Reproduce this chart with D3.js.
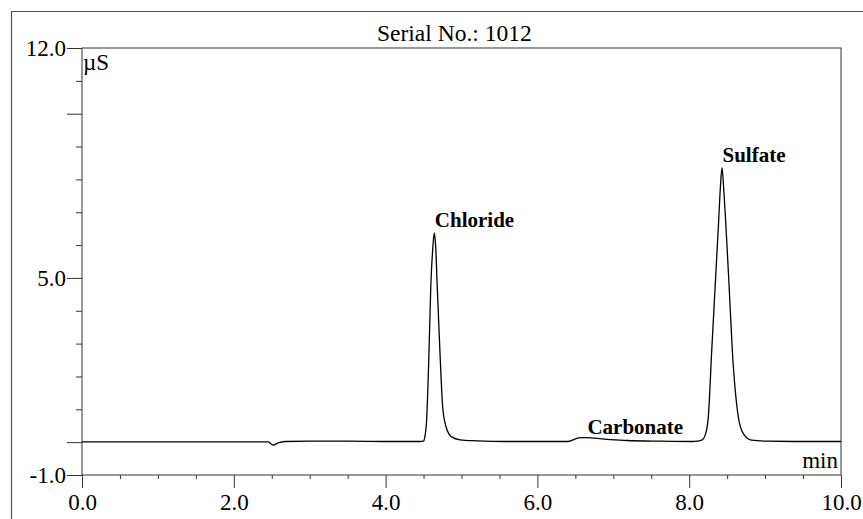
<!DOCTYPE html>
<html>
<head>
<meta charset="utf-8">
<title>Serial No.: 1012</title>
<script src="https://cdn.jsdelivr.net/npm/d3@7"></script>
<style>
  body { margin: 0; background: #fff; }
  svg { display: block; font-family: "Liberation Serif", "Times New Roman", serif; }
</style>
</head>
<body>
<div id="chart"></div>
<script>
/** Chromatogram plot for one sample. */

var chartTitle = "Serial No.: 1012";
var xUnit = "min";
var yUnit = "\u00b5S";

// Retention time (min) and conductivity (uS) of the trace
var traceTime = [0.0, 1.0, 2.0, 2.4, 2.455, 2.49, 2.52, 2.56, 2.61, 2.68,
    3.0, 3.5, 4.0, 4.45, 4.497, 4.52, 4.54, 4.57, 4.595, 4.625,
    4.642, 4.66, 4.68, 4.717, 4.752, 4.796, 4.87, 4.98, 5.2, 5.6,
    6.0, 6.4, 6.48, 6.55, 6.62, 6.75, 6.96, 7.18, 7.62, 8.05,
    8.099, 8.165, 8.217, 8.252, 8.297, 8.344, 8.385, 8.412, 8.432, 8.455,
    8.48, 8.524, 8.568, 8.647, 8.713, 8.823, 9.021, 9.5, 10.0];
var traceSignal = [0.01, 0.01, 0.01, 0.01, 0.01, -0.05, -0.09, -0.05, -0.01, 0.02,
    0.03, 0.03, 0.02, 0.02, 0.03, 0.2, 0.65, 2.6, 4.7, 6.0,
    6.37, 5.95, 4.75, 2.7, 1.07, 0.47, 0.16, 0.07, 0.04, 0.02,
    0.02, 0.02, 0.08, 0.13, 0.14, 0.12, 0.08, 0.05, 0.03, 0.02,
    0.03, 0.06, 0.26, 0.77, 2.8, 4.83, 6.6, 7.8, 8.36, 7.7,
    6.75, 4.83, 2.8, 0.77, 0.26, 0.06, 0.03, 0.02, 0.02];

// Peak labels
var peakNames = ["Chloride", "Carbonate", "Sulfate"];
var peakTimes = [4.642, 6.62, 8.432];
var peakHeights = [6.37, 0.14, 8.36];

// Axis ticks
var xMajorTicks = [0, 2, 4, 6, 8, 10];
var xTickLabels = ["0.0", "2.0", "4.0", "6.0", "8.0", "10.0"];
var xMinorTicks = [0.5, 1, 1.5, 2.5, 3, 3.5, 4.5, 5, 5.5, 6.5, 7, 7.5, 8.5, 9, 9.5];
var yMajorTicks = [-1, 0, 5, 10, 12];
var yTickLabels = ["-1.0", "", "5.0", "", "12.0"];
var yMinorTicks = [1, 2, 3, 4, 6, 7, 8, 9, 11];

function drawChromatogram(elemID, opts) {
    opts = opts || {};

    var width = opts.width || 863;
    var height = opts.height || 519;
    var plot = {left: 82, right: 841, top: 48, bottom: 475};
    var axisColor = "#333";

    var svg = d3.select(elemID).append("svg")
        .attr("width", width)
        .attr("height", height);

    // outer frame of the printout (only top and left are on the page)
    svg.append("path")
        .attr("d", "M11.5," + height + "V11.5H" + width)
        .attr("fill", "none")
        .attr("stroke", "#555")
        .attr("stroke-width", 1.2);

    var xScale = d3.scaleLinear().domain([0, 10]).range([plot.left, plot.right]);
    var yScale = d3.scaleLinear().domain([-1, 12]).range([plot.bottom, plot.top]);

    // plot box
    svg.append("rect")
        .attr("x", plot.left)
        .attr("y", plot.top)
        .attr("width", plot.right - plot.left)
        .attr("height", plot.bottom - plot.top)
        .attr("fill", "none")
        .attr("stroke", axisColor)
        .attr("stroke-width", 1);

    // X axis, long ticks with labels and short ticks between
    svg.append("g")
        .attr("transform", "translate(0," + plot.bottom + ")")
        .call(d3.axisBottom(xScale)
            .tickValues(xMajorTicks)
            .tickSize(13)
            .tickPadding(6)
            .tickFormat(function(d, i) { return xTickLabels[i]; }));
    svg.append("g")
        .attr("transform", "translate(0," + plot.bottom + ")")
        .call(d3.axisBottom(xScale)
            .tickValues(xMinorTicks)
            .tickSize(4)
            .tickFormat(""));

    // Y axis
    svg.append("g")
        .attr("transform", "translate(" + plot.left + ",0)")
        .call(d3.axisLeft(yScale)
            .tickValues(yMajorTicks)
            .tickSize(15)
            .tickPadding(1)
            .tickFormat(function(d, i) { return yTickLabels[i]; }));
    svg.append("g")
        .attr("transform", "translate(" + plot.left + ",0)")
        .call(d3.axisLeft(yScale)
            .tickValues(yMinorTicks)
            .tickSize(6)
            .tickFormat(""));

    svg.selectAll(".domain").remove();
    svg.selectAll(".tick line").attr("stroke", axisColor);
    svg.selectAll(".tick text")
        .attr("font-family", "Liberation Serif, serif")
        .attr("font-size", 23)
        .attr("fill", "#000");

    // title and units
    svg.append("text")
        .attr("x", 377)
        .attr("y", 41)
        .attr("font-size", 23.5)
        .text(chartTitle);

    svg.append("text")
        .attr("x", plot.left + 1)
        .attr("y", 70)
        .attr("font-size", 23)
        .text(yUnit);

    svg.append("text")
        .attr("x", plot.right - 3)
        .attr("y", 468)
        .attr("text-anchor", "end")
        .attr("font-size", 23)
        .text(xUnit);

    // the trace itself
    var points = traceTime.map(function(t, i) {
        return {t: t, v: traceSignal[i]};
    });
    var line = d3.line()
        .x(function(d) { return xScale(d.t); })
        .y(function(d) { return yScale(d.v); })
        .curve(d3.curveMonotoneX);

    svg.append("path")
        .datum(points)
        .attr("d", line)
        .attr("fill", "none")
        .attr("stroke", "#000")
        .attr("stroke-width", 1.3);

    // peak names just above each apex
    svg.selectAll(".peak-label")
        .data(peakNames).enter()
        .append("text")
            .attr("class", "peak-label")
            .attr("x", function(d, i) { return xScale(peakTimes[i]) + (i === 1 ? 3 : 0.5); })
            .attr("y", function(d, i) { return yScale(peakHeights[i]) - (i === 1 ? 4 : 6); })
            .attr("font-size", 21)
            .attr("font-weight", "bold")
            .text(function(d) { return d; });
}

drawChromatogram("#chart");
</script>
</body>
</html>
